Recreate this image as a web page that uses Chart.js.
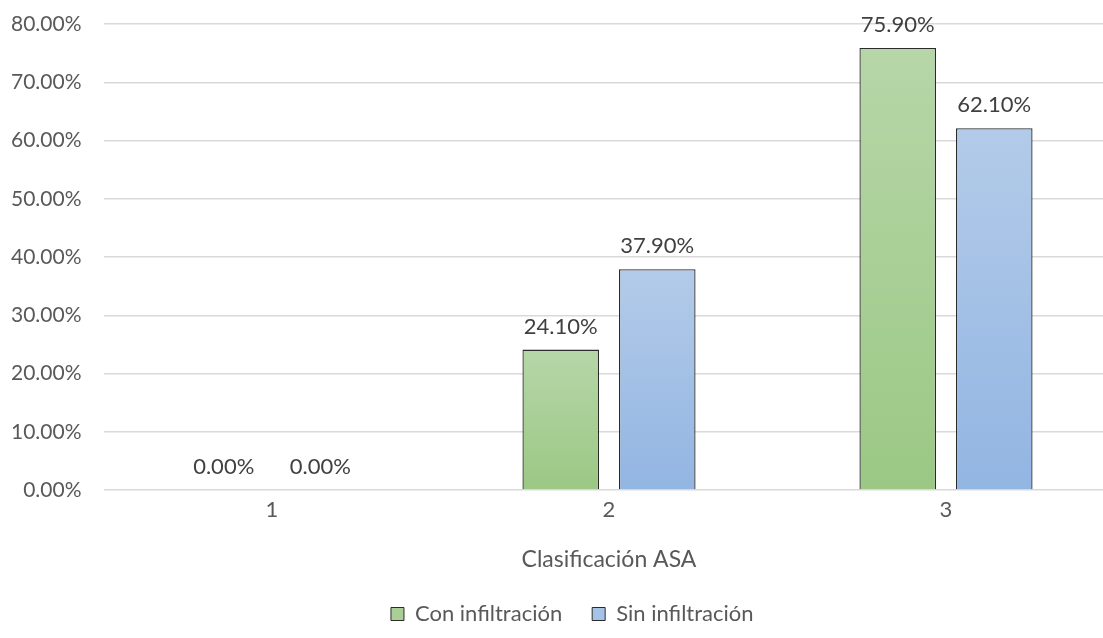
<!DOCTYPE html>
<html>
<head>
<meta charset="utf-8">
<script src="https://cdn.jsdelivr.net/npm/chart.js@4"></script>
<style>
  html, body { margin: 0; padding: 0; background: #fff; overflow: hidden; }
  #wrap { width: 1120px; height: 638px; position: relative; }
</style>
</head>
<body>
<div id="wrap"><canvas id="c"></canvas></div>
<script>
// Clasificación ASA categories and the share of patients in each group
const categories = ['1', '2', '3'];
const conInfiltracion = [0.00, 24.10, 75.90];
const sinInfiltracion = [0.00, 37.90, 62.10];
const seriesNames = ['Con infiltración', 'Sin infiltración'];
const yTicks = [0, 10, 20, 30, 40, 50, 60, 70, 80];

const FONT = 'Lato, "Open Sans", sans-serif';
const TEXT = '#595959';

// Vertical gradient for each bar, lighter at the top
function barGradient(top, bottom) {
  return function (ctx) {
    const chart = ctx.chart;
    const area = chart.chartArea;
    if (!area || ctx.type !== 'data') return bottom;
    const y = chart.scales.y;
    const t = y.getPixelForValue(ctx.raw);
    const b = y.getPixelForValue(0);
    if (b - t < 1) return bottom;
    const g = chart.ctx.createLinearGradient(0, t, 0, b);
    g.addColorStop(0, top);
    g.addColorStop(1, bottom);
    return g;
  };
}

// Value labels above each bar
const valueLabels = {
  id: 'valueLabels',
  afterDatasetsDraw(chart) {
    const ctx = chart.ctx;
    ctx.save();
    ctx.font = '22px ' + FONT;
    ctx.fillStyle = '#404040';
    ctx.textAlign = 'center';
    ctx.textBaseline = 'bottom';
    chart.data.datasets.forEach((ds, i) => {
      chart.getDatasetMeta(i).data.forEach((bar, j) => {
        ctx.fillText(ds.data[j].toFixed(2) + '%', bar.x, bar.y - 12);
      });
    });
    ctx.restore();
  }
};

// Nudge the legend a little to the right of the canvas centre
const legendShift = {
  id: 'legendShift',
  afterLayout(chart) {
    if (chart.legend) chart.legend.left += 30;
  }
};

new Chart(document.getElementById('c'), {
  type: 'bar',
  data: {
    labels: categories,
    datasets: [
      {
        label: seriesNames[0],
        data: conInfiltracion,
        backgroundColor: barGradient('#b6d6a8', '#9bc884'),
        borderColor: '#2b2b2b',
        borderWidth: 1.3,
        legendFill: '#a9cf97'
      },
      {
        label: seriesNames[1],
        data: sinInfiltracion,
        backgroundColor: barGradient('#b3cbe9', '#92b5e2'),
        borderColor: '#2b2b2b',
        borderWidth: 1.3,
        legendFill: '#a5c2e7'
      }
    ]
  },
  options: {
    responsive: true,
    maintainAspectRatio: false,
    animation: false,
    layout: { padding: { left: 0, right: 5.5, top: 24, bottom: 3 } },
    datasets: {
      bar: { categoryPercentage: 0.573, barPercentage: 0.793 }
    },
    scales: {
      x: {
        grid: { display: false, drawTicks: false },
        border: { display: false },
        ticks: { color: TEXT, font: { family: FONT, size: 22 }, padding: 7 },
        title: {
          display: true,
          text: 'Clasificación ASA',
          color: TEXT,
          font: { family: FONT, size: 23 },
          padding: { top: 15, bottom: 0 }
        }
      },
      y: {
        min: 0,
        max: 80,
        afterBuildTicks(scale) { scale.ticks = yTicks.map(v => ({ value: v })); },
        afterFit(scale) {
          scale.width = 103.5;
          scale.paddingTop = 0;
          scale.paddingBottom = 0;
        },
        grid: { color: '#d9d9d9', lineWidth: 1.5, drawTicks: false },
        border: { display: false },
        ticks: {
          color: TEXT,
          font: { family: FONT, size: 21 },
          padding: 22,
          callback: v => v.toFixed(2) + '%'
        }
      }
    },
    plugins: {
      tooltip: { enabled: false },
      legend: {
        position: 'bottom',
        labels: {
          color: TEXT,
          font: { family: FONT, size: 22 },
          boxWidth: 13,
          boxHeight: 13,
          padding: 30,
          generateLabels(chart) {
            return chart.data.datasets.map((ds, i) => ({
              text: ds.label,
              fillStyle: ds.legendFill,
              strokeStyle: '#2b2b2b',
              lineWidth: 1,
              fontColor: TEXT,
              datasetIndex: i,
              hidden: false
            }));
          }
        }
      }
    }
  },
  plugins: [valueLabels, legendShift]
});
</script>
</body>
</html>
